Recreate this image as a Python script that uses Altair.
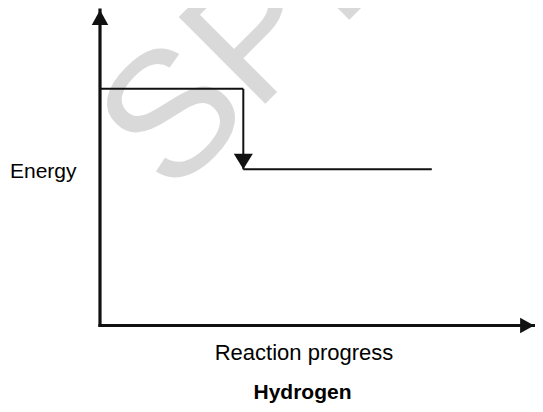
import altair as alt
import pandas as pd

# ---- data ----
level_names = ["Reactants", "Products"]
level_energy = [7.5, 4.95]
level_start = [0.0, 3.235]
level_end = [3.235, 7.49]

axis_x_end = 9.8    # reaction-progress axis length (arrow reaches the edge)
axis_y_end = 10.0   # energy axis length

y_label = "Energy"
prog_label = "Reaction progress"
title_label = "Hydrogen"
watermark = "SPECIMEN"

W, H = 527, 396
xs = alt.Scale(domain=[-2.0767, 9.8194], nice=False, zero=False)
ys = alt.Scale(domain=[-2.488, 10.063], nice=False, zero=False)

levels = pd.DataFrame({"name": level_names, "e": level_energy,
                       "x0": level_start, "x1": level_end})
axes_h = pd.DataFrame({"x0": [0.0], "x1": [axis_x_end], "y": [0.0]})
axes_v = pd.DataFrame({"x": [0.0], "y0": [0.0], "y1": [axis_y_end]})
drop = pd.DataFrame({"x": [level_end[0]], "y0": [level_energy[0]], "y1": [level_energy[1]]})
tip_y = pd.DataFrame({"x": [0.0], "y": [axis_y_end]})
tip_x = pd.DataFrame({"x": [axis_x_end], "y": [0.0]})
wm = pd.DataFrame({"t": [watermark]})

font = "Liberation Sans"
ink = "#111111"

wm_layer = alt.Chart(wm).mark_text(
    font=font, fontSize=178, angle=315, align="left", baseline="alphabetic",
    color="#d9d9d9"
).encode(x=alt.value(163), y=alt.value(190), text="t:N")

hline = alt.Chart(axes_h).mark_rule(color=ink, strokeWidth=3.2, strokeCap="square").encode(
    x=alt.X("x0:Q", scale=xs, axis=None), x2="x1:Q",
    y=alt.Y("y:Q", scale=ys, axis=None))
vline = alt.Chart(axes_v).mark_rule(color=ink, strokeWidth=3.2, strokeCap="square").encode(
    x=alt.X("x:Q", scale=xs, axis=None),
    y=alt.Y("y0:Q", scale=ys, axis=None), y2="y1:Q")

lev = alt.Chart(levels).mark_rule(color=ink, strokeWidth=2).encode(
    x=alt.X("x0:Q", scale=xs, axis=None), x2="x1:Q",
    y=alt.Y("e:Q", scale=ys, axis=None))
drop_line = alt.Chart(drop).mark_rule(color=ink, strokeWidth=2).encode(
    x=alt.X("x:Q", scale=xs, axis=None),
    y=alt.Y("y0:Q", scale=ys, axis=None), y2="y1:Q")

up_arrow = alt.Chart(tip_y).mark_point(
    shape="M0,0L-0.55,1L0.55,1Z", size=900, filled=True, opacity=1, color=ink, strokeWidth=0
).encode(x=alt.X("x:Q", scale=xs, axis=None), y=alt.Y("y:Q", scale=ys, axis=None))
right_arrow = alt.Chart(tip_x).mark_point(
    shape="M0,0L-1,-0.55L-1,0.55Z", size=784, filled=True, opacity=1, color=ink, strokeWidth=0
).encode(x=alt.X("x:Q", scale=xs, axis=None), y=alt.Y("y:Q", scale=ys, axis=None))
down_arrow = alt.Chart(drop).mark_point(
    shape="M0,0L-0.61,-1L0.61,-1Z", size=973, filled=True, opacity=1, color=ink, strokeWidth=0
).encode(x=alt.X("x:Q", scale=xs, axis=None), y=alt.Y("y1:Q", scale=ys, axis=None))

def label(txt, x, y, align, size=21, bold=False):
    return alt.Chart(pd.DataFrame({"t": [txt]})).mark_text(
        font=font, fontSize=size, align=align, baseline="alphabetic",
        fontWeight="bold" if bold else "normal", color="#000000"
    ).encode(x=alt.value(x), y=alt.value(y), text="t:N")

chart = alt.layer(
    wm_layer, lev, drop_line, down_arrow, hline, vline, up_arrow, right_arrow,
    label(y_label, 2, 170, "left"),
    label(prog_label, 296, 352, "center", size=22),
    label(title_label, 294.5, 391, "center", bold=True),
).properties(
    width=W, height=H, padding=0, autosize=alt.AutoSizeParams(type="none"),
    background="white"
).configure_view(stroke=None)

chart.save("out.html", embed_options={"renderer": "svg", "actions": False})
